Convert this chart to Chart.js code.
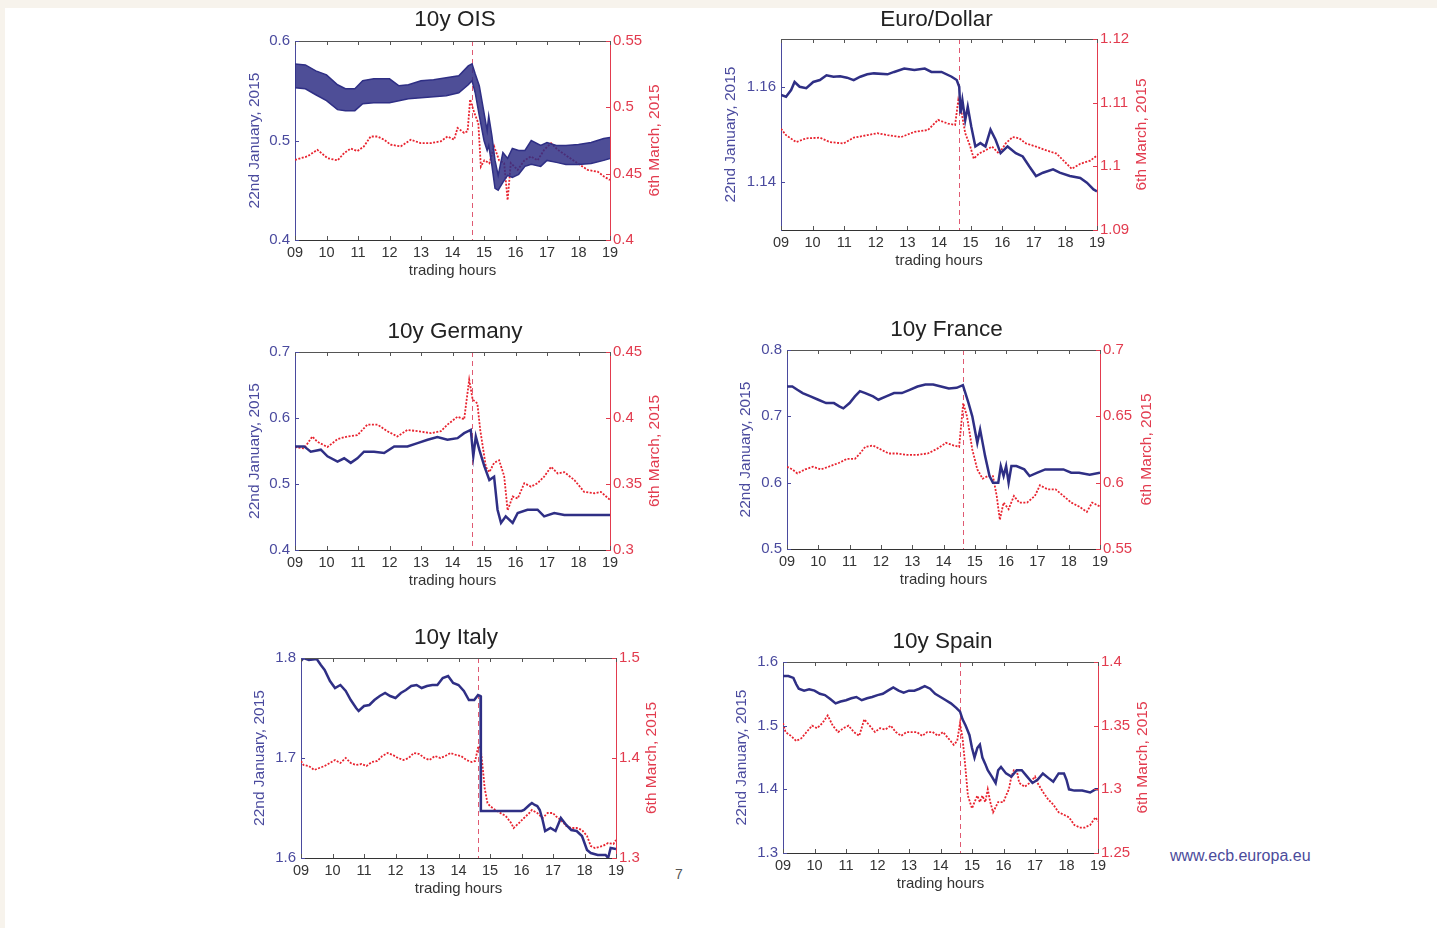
<!DOCTYPE html>
<html>
<head>
<meta charset="utf-8">
<script src="https://cdn.jsdelivr.net/npm/chart.js@4.4.1/dist/chart.umd.min.js"></script>
<style>
html,body{margin:0;padding:0;}
body{width:1437px;height:928px;background:#f7f3ec;position:relative;overflow:hidden;font-family:"Liberation Sans",Arial,sans-serif;}
#paper{position:absolute;left:5px;top:8px;width:1432px;height:920px;background:#ffffff;}
canvas{position:absolute;}
.note{position:absolute;white-space:nowrap;}
</style>
</head>
<body>
<div id="paper"></div>
<canvas id="c1"></canvas>
<canvas id="c2"></canvas>
<canvas id="c3"></canvas>
<canvas id="c4"></canvas>
<canvas id="c5"></canvas>
<canvas id="c6"></canvas>
<div class="note" style="left:1170px;top:847px;color:#4b4b9b;font-size:16px;">www.ecb.europa.eu</div>
<div class="note" style="left:675px;top:866px;color:#555;font-size:14px;">7</div>
<script>
// ---------- shared ----------
const hourTicks = [9,10,11,12,13,14,15,16,17,18,19];
const hourLabels = ['09','10','11','12','13','14','15','16','17','18','19'];
const announcementHour = 14.62;
const leftAxisTitle = '22nd January, 2015';
const rightAxisTitle = '6th March, 2015';
const xAxisTitle = 'trading hours';

// ---------- 10y OIS ----------
const oisBandTimes = [9.0,9.33,9.66,10.0,10.35,10.6,10.9,11.15,11.5,12.0,12.3,12.6,13.0,13.4,13.8,14.2,14.5,14.62,14.72,14.85,15.0,15.1,15.15,15.25,15.35,15.45,15.6,15.75,15.9,16.1,16.3,16.5,16.8,17.0,17.3,17.6,18.0,18.4,18.8,19.0];
const oisJanUpper = [0.577,0.576,0.570,0.566,0.556,0.552,0.552,0.560,0.562,0.562,0.555,0.556,0.560,0.561,0.563,0.565,0.575,0.577,0.567,0.555,0.528,0.510,0.525,0.505,0.480,0.465,0.488,0.482,0.492,0.490,0.490,0.500,0.495,0.498,0.495,0.495,0.496,0.498,0.502,0.503];
const oisJanLower = [0.553,0.552,0.546,0.540,0.531,0.530,0.530,0.537,0.538,0.538,0.540,0.542,0.543,0.544,0.545,0.548,0.556,0.560,0.548,0.525,0.500,0.490,0.495,0.475,0.452,0.450,0.458,0.465,0.463,0.466,0.474,0.476,0.474,0.480,0.478,0.476,0.476,0.477,0.480,0.482];
const oisMarTimes = [9.0,9.39,9.71,10.03,10.35,10.56,10.77,10.98,11.19,11.40,11.62,11.83,12.04,12.36,12.68,12.99,13.31,13.63,13.84,14.05,14.16,14.37,14.48,14.56,14.69,14.82,14.90,15.01,15.17,15.32,15.48,15.64,15.75,15.85,16.07,16.28,16.49,16.70,16.91,17.13,17.34,17.65,17.97,18.29,18.61,18.82,19.0];
const oisMar = [0.4604,0.463,0.468,0.4617,0.460,0.4655,0.469,0.467,0.4706,0.478,0.478,0.4756,0.4718,0.4706,0.4756,0.473,0.473,0.4744,0.478,0.4756,0.4845,0.4807,0.482,0.506,0.496,0.488,0.4553,0.460,0.4578,0.4706,0.460,0.458,0.430,0.458,0.4528,0.460,0.463,0.460,0.468,0.473,0.468,0.463,0.4579,0.4528,0.4515,0.4477,0.4452];
const oisLeftTicks = [0.4,0.5,0.6];
const oisRightTicks = [0.4,0.45,0.5,0.55];

// ---------- Euro/Dollar ----------
const eurJanTimes = [9.0,9.16,9.32,9.43,9.59,9.80,10.02,10.23,10.44,10.66,10.87,11.09,11.30,11.51,11.73,11.94,12.37,12.58,12.90,13.22,13.55,13.76,14.08,14.40,14.56,14.64,14.68,14.74,14.83,14.91,15.02,15.15,15.31,15.47,15.63,15.79,15.95,16.17,16.43,16.65,16.86,17.07,17.29,17.61,17.82,18.14,18.47,18.68,18.89,19.0];
const eurJan = [1.1583,1.1579,1.1593,1.1610,1.1600,1.1597,1.1610,1.1614,1.1624,1.1621,1.1622,1.1619,1.1614,1.1621,1.1626,1.1628,1.1626,1.1631,1.1638,1.1635,1.1638,1.1631,1.1631,1.1621,1.1614,1.1600,1.1544,1.1572,1.1530,1.1558,1.1517,1.1475,1.1482,1.1475,1.1510,1.1489,1.1461,1.1475,1.1461,1.1454,1.1433,1.1413,1.1420,1.1427,1.1420,1.1413,1.1409,1.1399,1.1385,1.1381];
const eurMarTimes = [9.0,9.16,9.48,9.80,10.23,10.55,10.98,11.30,11.73,12.05,12.37,12.80,13.22,13.65,13.97,14.29,14.51,14.61,14.70,14.83,14.99,15.10,15.26,15.47,15.68,15.90,16.11,16.33,16.54,16.75,17.07,17.40,17.72,18.04,18.20,18.47,18.79,19.0];
const eurMar = [1.1059,1.1049,1.1038,1.1044,1.1045,1.1038,1.1036,1.1045,1.1049,1.1052,1.1049,1.1046,1.1054,1.1057,1.1073,1.1067,1.1065,1.1104,1.1088,1.1052,1.1031,1.1012,1.1020,1.1025,1.1031,1.1020,1.1036,1.1046,1.1044,1.1036,1.1031,1.1025,1.1020,1.1004,1.0996,1.1004,1.1009,1.1017];
const eurLeftTicks = [1.14,1.16];
const eurRightTicks = [1.09,1.1,1.11,1.12];

// ---------- 10y Germany ----------
const deJanTimes = [9.0,9.29,9.50,9.82,10.03,10.35,10.56,10.77,10.98,11.19,11.51,11.83,12.15,12.57,12.89,13.21,13.52,13.84,14.16,14.37,14.58,14.66,14.74,14.85,15.01,15.17,15.32,15.43,15.54,15.69,15.91,16.07,16.38,16.70,16.91,17.23,17.55,17.87,19.0];
const deJan = [0.557,0.557,0.549,0.552,0.542,0.534,0.539,0.532,0.539,0.549,0.549,0.547,0.557,0.557,0.562,0.567,0.571,0.567,0.5695,0.577,0.582,0.542,0.572,0.552,0.527,0.506,0.511,0.461,0.441,0.451,0.441,0.456,0.461,0.461,0.451,0.456,0.453,0.453,0.453];
const deMarTimes = [9.0,9.29,9.55,9.71,10.03,10.35,10.66,10.98,11.30,11.62,11.93,12.25,12.57,12.89,13.31,13.63,13.84,14.16,14.37,14.53,14.64,14.79,14.88,15.06,15.17,15.32,15.48,15.64,15.75,15.91,16.07,16.28,16.49,16.70,16.91,17.13,17.34,17.55,17.87,18.18,18.50,18.71,19.0];
const deMar = [0.378,0.377,0.386,0.382,0.378,0.384,0.386,0.387,0.395,0.395,0.390,0.386,0.391,0.390,0.3885,0.390,0.395,0.401,0.399,0.429,0.414,0.411,0.391,0.363,0.359,0.366,0.368,0.356,0.330,0.3405,0.339,0.3506,0.348,0.3506,0.3556,0.363,0.358,0.359,0.353,0.344,0.343,0.344,0.338];
const deLeftTicks = [0.4,0.5,0.6,0.7];
const deRightTicks = [0.3,0.35,0.4,0.45];

// ---------- 10y France ----------
const frJanTimes = [9.0,9.17,9.33,9.5,9.75,10.0,10.25,10.5,10.67,10.8,11.0,11.17,11.33,11.5,11.75,11.92,12.17,12.42,12.67,12.92,13.17,13.42,13.67,13.92,14.17,14.42,14.62,14.7,14.8,14.92,15.0,15.08,15.17,15.25,15.33,15.47,15.58,15.75,15.83,15.92,16.0,16.08,16.17,16.33,16.58,16.75,17.0,17.25,17.5,17.83,18.08,18.33,18.67,19.0];
const frJan = [0.745,0.745,0.740,0.735,0.730,0.725,0.720,0.720,0.715,0.712,0.720,0.730,0.738,0.735,0.730,0.725,0.730,0.735,0.735,0.740,0.745,0.748,0.748,0.745,0.742,0.743,0.747,0.735,0.720,0.700,0.680,0.660,0.680,0.660,0.640,0.610,0.600,0.600,0.625,0.610,0.625,0.600,0.625,0.625,0.620,0.610,0.615,0.620,0.620,0.620,0.615,0.615,0.612,0.615];
const frMarTimes = [9.0,9.17,9.33,9.58,9.83,10.08,10.33,10.67,10.92,11.17,11.33,11.5,11.75,12.0,12.25,12.5,12.83,13.17,13.5,13.83,14.08,14.33,14.5,14.63,14.75,14.92,15.08,15.25,15.42,15.58,15.7,15.8,15.92,16.08,16.25,16.42,16.67,16.92,17.08,17.33,17.58,17.83,18.08,18.33,18.58,18.75,19.0];
const frMar = [0.612,0.610,0.607,0.610,0.612,0.610,0.612,0.615,0.618,0.618,0.622,0.627,0.628,0.625,0.622,0.622,0.621,0.621,0.622,0.626,0.630,0.628,0.627,0.660,0.650,0.625,0.610,0.603,0.605,0.605,0.590,0.572,0.585,0.580,0.590,0.585,0.585,0.590,0.598,0.595,0.595,0.590,0.585,0.582,0.578,0.585,0.582];
const frLeftTicks = [0.5,0.6,0.7,0.8];
const frRightTicks = [0.55,0.6,0.65,0.7];

// ---------- 10y Italy ----------
const itJanTimes = [9.0,9.08,9.25,9.5,9.63,9.75,9.92,10.08,10.25,10.42,10.58,10.75,10.83,11.0,11.17,11.33,11.5,11.67,11.83,12.0,12.17,12.33,12.5,12.67,12.83,13.0,13.17,13.33,13.5,13.67,13.83,14.0,14.17,14.33,14.5,14.62,14.7,14.71,16.0,16.08,16.25,16.33,16.42,16.5,16.58,16.67,16.75,16.92,17.08,17.25,17.42,17.58,17.75,17.92,18.08,18.2,18.42,18.67,18.75,18.83,19.0];
const itJan = [1.797,1.800,1.798,1.799,1.793,1.788,1.777,1.770,1.773,1.767,1.758,1.750,1.747,1.752,1.753,1.758,1.762,1.765,1.762,1.760,1.765,1.768,1.772,1.773,1.770,1.772,1.773,1.773,1.780,1.782,1.775,1.773,1.767,1.758,1.758,1.763,1.762,1.647,1.647,1.648,1.653,1.655,1.653,1.652,1.648,1.638,1.627,1.630,1.627,1.640,1.633,1.628,1.627,1.622,1.608,1.605,1.603,1.603,1.600,1.610,1.609];
const itMarTimes = [9.0,9.08,9.25,9.42,9.58,9.75,9.92,10.08,10.25,10.42,10.58,10.75,10.92,11.08,11.25,11.42,11.58,11.75,11.92,12.08,12.25,12.42,12.58,12.75,12.92,13.08,13.25,13.42,13.58,13.75,13.92,14.08,14.25,14.42,14.53,14.63,14.7,14.77,14.83,14.92,15.0,15.17,15.33,15.5,15.67,15.75,15.92,16.08,16.25,16.33,16.5,16.67,16.83,17.0,17.08,17.25,17.42,17.58,17.75,17.92,18.08,18.2,18.33,18.58,18.75,18.92,19.0];
const itMar = [1.397,1.393,1.392,1.388,1.390,1.392,1.395,1.398,1.395,1.400,1.395,1.393,1.394,1.392,1.396,1.397,1.402,1.405,1.403,1.400,1.398,1.400,1.405,1.404,1.400,1.398,1.402,1.400,1.402,1.405,1.403,1.402,1.398,1.396,1.397,1.412,1.410,1.390,1.370,1.355,1.352,1.348,1.345,1.342,1.335,1.330,1.335,1.340,1.345,1.348,1.345,1.340,1.345,1.345,1.342,1.338,1.332,1.330,1.330,1.328,1.322,1.312,1.310,1.312,1.315,1.314,1.318];
const itLeftTicks = [1.6,1.7,1.8];
const itRightTicks = [1.3,1.4,1.5];

// ---------- 10y Spain ----------
const esJanTimes = [9.0,9.17,9.33,9.42,9.5,9.67,9.83,10.0,10.17,10.33,10.5,10.67,10.83,11.0,11.17,11.33,11.5,11.67,11.83,12.0,12.17,12.33,12.5,12.67,12.83,13.0,13.17,13.33,13.5,13.67,13.83,14.0,14.17,14.33,14.5,14.62,14.7,14.8,14.92,15.0,15.08,15.17,15.25,15.33,15.42,15.5,15.63,15.75,15.83,15.92,16.08,16.25,16.42,16.58,16.75,16.92,17.08,17.25,17.42,17.58,17.75,17.92,18.0,18.08,18.25,18.5,18.75,18.92,19.0];
const esJan = [1.578,1.578,1.575,1.565,1.558,1.555,1.557,1.555,1.550,1.548,1.542,1.535,1.538,1.540,1.543,1.545,1.540,1.543,1.545,1.548,1.550,1.555,1.560,1.555,1.552,1.555,1.555,1.558,1.562,1.558,1.550,1.545,1.540,1.535,1.528,1.522,1.510,1.500,1.485,1.465,1.450,1.465,1.470,1.450,1.440,1.430,1.420,1.410,1.430,1.435,1.425,1.420,1.430,1.430,1.420,1.410,1.415,1.425,1.418,1.412,1.425,1.425,1.415,1.400,1.398,1.398,1.395,1.400,1.400];
const esMarTimes = [9.0,9.08,9.25,9.42,9.58,9.75,9.92,10.08,10.25,10.42,10.58,10.75,10.92,11.08,11.25,11.42,11.58,11.75,11.92,12.08,12.25,12.42,12.58,12.75,12.92,13.08,13.25,13.42,13.58,13.75,13.92,14.08,14.25,14.42,14.53,14.62,14.7,14.78,14.87,15.0,15.08,15.17,15.25,15.33,15.42,15.5,15.58,15.67,15.83,16.0,16.08,16.17,16.25,16.33,16.42,16.5,16.67,16.83,17.0,17.08,17.25,17.42,17.58,17.75,17.92,18.08,18.25,18.42,18.58,18.75,18.92,19.0];
const esMar = [1.352,1.345,1.342,1.338,1.340,1.345,1.350,1.348,1.352,1.358,1.350,1.345,1.348,1.350,1.345,1.342,1.355,1.350,1.345,1.348,1.347,1.350,1.345,1.342,1.345,1.345,1.345,1.342,1.345,1.345,1.342,1.345,1.340,1.335,1.338,1.352,1.340,1.320,1.295,1.285,1.290,1.295,1.290,1.295,1.290,1.300,1.290,1.282,1.290,1.290,1.295,1.300,1.310,1.315,1.315,1.305,1.302,1.305,1.310,1.305,1.298,1.292,1.288,1.282,1.280,1.278,1.272,1.270,1.270,1.272,1.278,1.275];
const esLeftTicks = [1.3,1.4,1.5,1.6];
const esRightTicks = [1.25,1.3,1.35,1.4];

// ---------- styling & helpers ----------
const BLUE = '#2f2f85';
const BLUE_TXT = '#4a4a9e';
const RED = '#e8232f';
const RED_TXT = '#e23b4e';
const FONT = '"Liberation Sans", Arial, Helvetica, sans-serif';
const TH = 42, BH = 44;

function pts(times, vals){ return times.map((t,i)=>({x:t, y:vals[i]})); }
function fmt(v){ return String(Number(v.toFixed(4))); }

const framePlugin = {
  id:'frame',
  beforeDatasetsDraw(chart){
    const {ctx, chartArea:a, scales} = chart;
    const x = scales.x.getPixelForValue(announcementHour);
    ctx.save();
    ctx.strokeStyle = '#df5a72';
    ctx.lineWidth = 1;
    ctx.setLineDash([5,4]);
    ctx.beginPath(); ctx.moveTo(Math.round(x)+0.5, a.top); ctx.lineTo(Math.round(x)+0.5, a.bottom); ctx.stroke();
    ctx.restore();
  },
  afterDraw(chart, args, opts){
    const {ctx, chartArea:a, scales} = chart;
    ctx.save();
    ctx.lineWidth = 1;
    ctx.strokeStyle = '#555';
    ctx.beginPath(); ctx.moveTo(a.left, a.top+0.5); ctx.lineTo(a.right, a.top+0.5); ctx.stroke();
    scales.x.ticks.forEach(t=>{
      const px = Math.round(scales.x.getPixelForValue(t.value))+0.5;
      ctx.beginPath();
      ctx.moveTo(px, a.bottom); ctx.lineTo(px, a.bottom-4);
      ctx.moveTo(px, a.top); ctx.lineTo(px, a.top+4);
      ctx.stroke();
    });
    ctx.strokeStyle = BLUE_TXT;
    scales.yL.ticks.forEach(t=>{
      const py = Math.round(scales.yL.getPixelForValue(t.value))+0.5;
      ctx.beginPath(); ctx.moveTo(a.left, py); ctx.lineTo(a.left+4, py); ctx.stroke();
    });
    ctx.strokeStyle = RED_TXT;
    scales.yR.ticks.forEach(t=>{
      const py = Math.round(scales.yR.getPixelForValue(t.value))+0.5;
      ctx.beginPath(); ctx.moveTo(a.right, py); ctx.lineTo(a.right-4, py); ctx.stroke();
    });
    // right axis title, reading bottom-to-top
    ctx.translate(a.right + (opts.rOff || 45), (a.top + a.bottom)/2);
    ctx.rotate(-Math.PI/2);
    ctx.fillStyle = RED_TXT;
    ctx.font = '15.5px ' + FONT;
    ctx.textAlign = 'center';
    ctx.textBaseline = 'middle';
    ctx.fillText(rightAxisTitle, 0, 0);
    ctx.restore();
  }
};

function makeChart(id, rect, title, leftMin, leftMax, leftTicks, rightMin, rightMax, rightTicks, datasets, lay){
  const LW = lay.lw, RW = lay.rOff + 14;
  const cv = document.getElementById(id);
  const w = (rect.r - rect.l) + LW + RW;
  const h = (rect.b - rect.t) + TH + BH;
  cv.width = w; cv.height = h;
  cv.style.left = (rect.l - LW) + 'px';
  cv.style.top = (rect.t - TH) + 'px';
  cv.style.width = w + 'px'; cv.style.height = h + 'px';
  new Chart(cv, {
    type:'line',
    data:{datasets},
    options:{
      responsive:false, animation:false, devicePixelRatio:1,
      layout:{padding:0},
      plugins:{
        legend:{display:false}, tooltip:{enabled:false},
        frame:{rOff:lay.rOff},
        title:{display:true, text:title, color:'#222', font:{family:FONT, size:22.5, weight:'normal', lineHeight:1.1}, padding:{top:lay.tp, bottom:42 - lay.tp - 24.75}}
      },
      elements:{point:{radius:0}, line:{tension:0}},
      scales:{
        x:{type:'linear', position:'bottom', min:9, max:19,
          afterBuildTicks:s=>{ s.ticks = hourTicks.map(v=>({value:v})); },
          afterFit:s=>{ s.height = BH; },
          grid:{display:true, drawOnChartArea:false, drawTicks:false},
          border:{display:true, color:'#333', width:1},
          ticks:{color:'#333', padding:4, maxRotation:0, autoSkip:false, font:{family:FONT, size:14.5},
            callback:(v)=>hourLabels[hourTicks.indexOf(v)]},
          title:{display:true, text:xAxisTitle, color:'#333', font:{family:FONT, size:15}, padding:{top:0,bottom:4}}
        },
        yL:{type:'linear', position:'left', min:leftMin, max:leftMax,
          afterBuildTicks:s=>{ s.ticks = leftTicks.map(v=>({value:v})); },
          afterFit:s=>{ s.width = LW; },
          grid:{display:true, drawOnChartArea:false, drawTicks:false},
          border:{display:true, color:BLUE_TXT, width:1},
          ticks:{color:BLUE_TXT, padding:5, font:{family:FONT, size:15}, callback:v=>fmt(v)},
          title:{display:true, text:leftAxisTitle, color:BLUE_TXT, font:{family:FONT, size:15.5}, padding:{top:4,bottom:0}}
        },
        yR:{type:'linear', position:'right', min:rightMin, max:rightMax,
          afterBuildTicks:s=>{ s.ticks = rightTicks.map(v=>({value:v})); },
          afterFit:s=>{ s.width = RW; },
          grid:{display:true, drawOnChartArea:false, drawTicks:false},
          border:{display:true, color:RED_TXT, width:1},
          ticks:{color:RED_TXT, padding:3, font:{family:FONT, size:15}, callback:v=>fmt(v)},
          title:{display:false}
        }
      }
    },
    plugins:[framePlugin]
  });
}

function janLine(times, vals){
  return {label:'22nd January, 2015', data:pts(times, vals), yAxisID:'yL', xAxisID:'x', borderColor:BLUE, borderWidth:2.5, fill:false};
}
function marLine(times, vals){
  return {label:'6th March, 2015', data:pts(times, vals), yAxisID:'yR', xAxisID:'x', borderColor:RED, borderWidth:1.8, borderDash:[2,1.5], fill:false};
}

// 10y OIS
makeChart('c1', {l:295, t:41, r:610, b:240}, '10y OIS', 0.4, 0.6, oisLeftTicks, 0.4, 0.55, oisRightTicks, [
  {label:'22nd January, 2015 (high)', data:pts(oisBandTimes, oisJanUpper), yAxisID:'yL', xAxisID:'x', borderColor:BLUE, borderWidth:1.5, fill:false},
  {label:'22nd January, 2015 (low)', data:pts(oisBandTimes, oisJanLower), yAxisID:'yL', xAxisID:'x', borderColor:BLUE, borderWidth:1.5, backgroundColor:'rgba(47,47,133,0.85)', fill:'-1'},
  marLine(oisMarTimes, oisMar)
], {lw:54, rOff:45, tp:8});
// Euro/Dollar
makeChart('c2', {l:781, t:39, r:1097, b:230}, 'Euro/Dollar', 1.13, 1.17, eurLeftTicks, 1.09, 1.12, eurRightTicks, [
  janLine(eurJanTimes, eurJan), marLine(eurMarTimes, eurMar)
], {lw:64, rOff:45, tp:10});
// 10y Germany
makeChart('c3', {l:295, t:352, r:610, b:550}, '10y Germany', 0.4, 0.7, deLeftTicks, 0.3, 0.45, deRightTicks, [
  janLine(deJanTimes, deJan), marLine(deMarTimes, deMar)
], {lw:54, rOff:45, tp:9});
// 10y France
makeChart('c4', {l:787, t:350, r:1100, b:549}, '10y France', 0.5, 0.8, frLeftTicks, 0.55, 0.7, frRightTicks, [
  janLine(frJanTimes, frJan), marLine(frMarTimes, frMar)
], {lw:55, rOff:47, tp:9});
// 10y Italy
makeChart('c5', {l:301, t:658, r:616, b:858}, '10y Italy', 1.6, 1.8, itLeftTicks, 1.3, 1.5, itRightTicks, [
  janLine(itJanTimes, itJan), marLine(itMarTimes, itMar)
], {lw:55, rOff:36, tp:9});
// 10y Spain
makeChart('c6', {l:783, t:662, r:1098, b:853}, '10y Spain', 1.3, 1.6, esLeftTicks, 1.25, 1.4, esRightTicks, [
  janLine(esJanTimes, esJan), marLine(esMarTimes, esMar)
], {lw:55, rOff:45, tp:9});
</script>
</body>
</html>
